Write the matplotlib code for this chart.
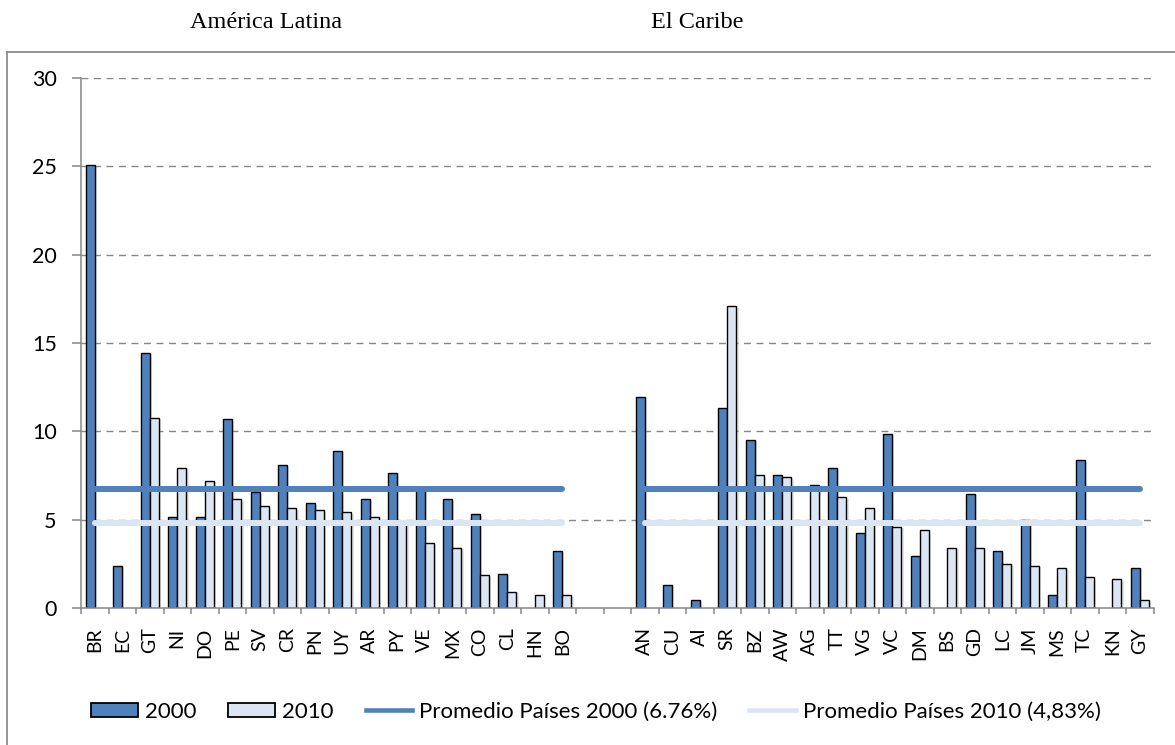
import numpy as np
import matplotlib
matplotlib.use("Agg")
import matplotlib.pyplot as plt
from matplotlib.lines import Line2D
from matplotlib.patches import Patch
import matplotlib.patheffects as pe

# ---------------- data ----------------
latina = ["BR", "EC", "GT", "NI", "DO", "PE", "SV", "CR", "PN", "UY",
          "AR", "PY", "VE", "MX", "CO", "CL", "HN", "BO"]
latina_2000 = [25.1, 2.4, 14.45, 5.13, 5.13, 10.67, 6.56, 8.07, 5.95, 8.9,
               6.17, 7.64, 6.67, 6.17, 5.32, 1.95, np.nan, 3.22]
latina_2010 = [np.nan, np.nan, 10.78, 7.94, 7.21, 6.17, 5.76, 5.65, 5.54, 5.43,
               5.13, 4.85, 3.66, 3.42, 1.86, 0.93, 0.71, 0.71]

caribe = ["AN", "CU", "AI", "SR", "BZ", "AW", "AG", "TT", "VG", "VC",
          "DM", "BS", "GD", "LC", "JM", "MS", "TC", "KN", "GY"]
caribe_2000 = [11.93, 1.32, 0.48, 11.3, 9.52, 7.53, np.nan, 7.94, 4.26, 9.85,
               2.92, np.nan, 6.47, 3.22, 5.0, 0.71, 8.38, np.nan, 2.27]
caribe_2010 = [np.nan, np.nan, np.nan, 17.08, 7.53, 7.42, 6.99, 6.28, 5.65, 4.61,
               4.39, 3.42, 3.42, 2.49, 2.4, 2.27, 1.75, 1.65, 0.48]

promedio_2000 = 6.76
promedio_2010 = 4.83
n_gap = 2

series_names = ["2000", "2010",
                "Promedio Países 2000 (6.76%)", "Promedio Países 2010 (4,83%)"]
region_titles = ["América Latina", "El Caribe"]

# ---------------- build combined axis ----------------
gap = [""] * n_gap
labels = latina + gap + caribe
v2000 = np.array(latina_2000 + [np.nan] * n_gap + caribe_2000, dtype=float)
v2010 = np.array(latina_2010 + [np.nan] * n_gap + caribe_2010, dtype=float)
x = np.arange(len(labels))
avg_mask = np.array([1] * len(latina) + [0] * n_gap + [1] * len(caribe), dtype=bool)
avg2000 = np.where(avg_mask, promedio_2000, np.nan)
avg2010 = np.where(avg_mask, promedio_2010, np.nan)

DARK = "#4F81BD"
LIGHT = "#DCE6F2"
GRID = "#868686"
FONT = ["Lato", "DejaVu Sans"]
plt.rcParams["font.family"] = FONT

W, H = 1175, 745
fig = plt.figure(figsize=(W / 100, H / 100), dpi=100)
ax = fig.add_axes([81 / W, (H - 608) / H, 1072.5 / W, 530 / H])

bw = 0.33
shadow = [pe.SimplePatchShadow(offset=(1.6, -1.2), shadow_rgbFace="#909090", alpha=0.25), pe.Normal()]
b1 = ax.bar(x - bw / 2, np.nan_to_num(v2000, nan=0.0), width=bw, color=DARK,
            edgecolor="black", linewidth=1.0, zorder=3)
b2 = ax.bar(x + bw / 2, np.nan_to_num(v2010, nan=0.0), width=bw, color=LIGHT,
            edgecolor="black", linewidth=1.0, zorder=3)
for bars, vals in ((b1, v2000), (b2, v2010)):
    for r, v in zip(bars, vals):
        if np.isnan(v):
            r.set_visible(False)
        else:
            r.set_path_effects(shadow)

ax.plot(x, avg2000, color=DARK, lw=4.3, solid_capstyle="round", zorder=5)
ax.plot(x, avg2010, color=LIGHT, lw=4.3, solid_capstyle="round", zorder=5)

ax.set_xlim(-0.5, len(labels) - 0.5)
ax.set_ylim(0, 30)
ax.set_yticks(np.arange(0, 31, 5))
for yv in np.arange(5, 31, 5):
    ax.axhline(yv, color=GRID, lw=1.0, ls=(0, (5, 4)), zorder=1)

for s in ["top", "right"]:
    ax.spines[s].set_visible(False)
for s in ["left", "bottom"]:
    ax.spines[s].set_color(GRID)
    ax.spines[s].set_linewidth(1.1)
ax.spines["bottom"].set_zorder(6)

ax.set_xticks(x)
ax.set_xticklabels(labels, rotation=90, fontsize=14, color="black")
ax.tick_params(axis="x", which="major", length=0, pad=14)
ax.set_xticks(np.arange(-0.5, len(labels), 1.0), minor=True)
ax.tick_params(axis="x", which="minor", length=4.5, width=1.1, color=GRID, direction="out")
ax.tick_params(axis="y", length=6.5, width=1.1, color=GRID, pad=11, labelsize=15.5,
               labelcolor="black")
ax.set_facecolor("none")

# titles
fig.text(266 / W, 1 - 22 / H, region_titles[0], ha="center", va="center",
         family=["Liberation Serif", "DejaVu Serif"], fontsize=17.5)
fig.text(697 / W, 1 - 22 / H, region_titles[1], ha="center", va="center",
         family=["Liberation Serif", "DejaVu Serif"], fontsize=17.5)

# frame (cut off at right/bottom)
fig.add_artist(Line2D([7 / W, 7 / W], [0, 1 - 52 / H], transform=fig.transFigure,
                      color="#8C8C8C", lw=1.3))
fig.add_artist(Line2D([7 / W, 1.0], [1 - 52 / H, 1 - 52 / H], transform=fig.transFigure,
                      color="#8C8C8C", lw=1.3))

handles = [Patch(facecolor=DARK, edgecolor="black", linewidth=1.3),
           Patch(facecolor=LIGHT, edgecolor="black", linewidth=1.3),
           Line2D([], [], color=DARK, lw=3.3),
           Line2D([], [], color=LIGHT, lw=3.3)]
fig.legend(handles, series_names, loc="center", bbox_to_anchor=(596 / W, 1 - 712 / H),
           ncol=4, frameon=False, fontsize=16, handlelength=2.1, handleheight=0.63,
           handletextpad=0.3, columnspacing=1.45, borderaxespad=0, borderpad=0)

fig.savefig("out.png", dpi=100)
